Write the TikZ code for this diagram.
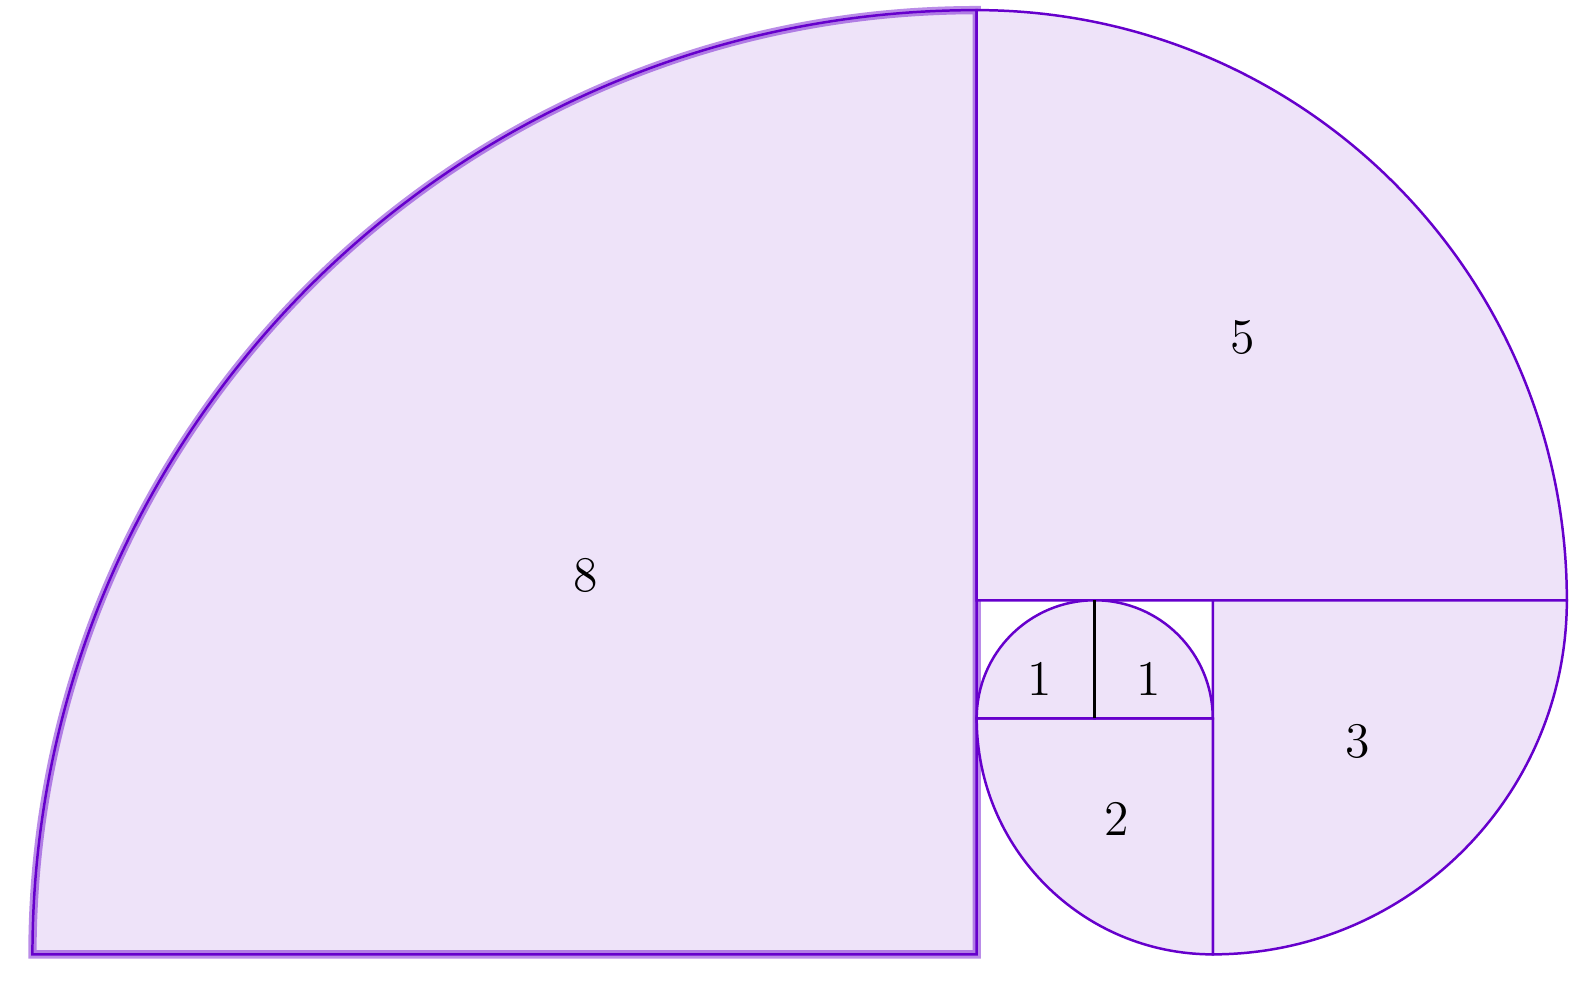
\documentclass[tikz,border=0pt]{standalone}
\usepackage{amsmath}
\usepackage{tikz}
\definecolor{SpiralColor}{RGB}{102,0,204}

\begin{document}
\begin{tikzpicture}[font=\large,sec/.style={draw=SpiralColor,fill=SpiralColor!11,line width=0.6pt},glow/.style={draw=SpiralColor,draw opacity=0.45,line width=2pt}]
\useasboundingbox (-8.275,-0.251) rectangle (5.213,8.086);
% biggest square gets a halo
\filldraw[sec,glow] (0,0) -- (-8,0) arc (180:90:8) -- cycle;
\draw[sec,fill=none] (0,0) -- (-8,0) arc (180:90:8) -- cycle;
\foreach \cx/\cy/\a/\r in %
{0/3/0/5,2/3/-90/3,2/2/180/2,1/2/90/1,1/2/0/1} {
   \filldraw[sec] (\cx,\cy) -- ++(\a:\r) arc (\a:\a+90:\r) -- cycle;
}
\draw[line width=0.6pt] (1,2) -- (1,3);
   \node (n8) at (-3.31,3.21) {$8$};
   \node (n5) at (2.25,5.23) {$5$};
   \node (n3) at (3.23,1.8) {$3$};
   \node (n2) at (1.19,1.14) {$2$};
   \node (n1a) at (0.53,2.33) {$1$};
   \node (n1b) at (1.46,2.33) {$1$};
\end{tikzpicture}
\end{document}
